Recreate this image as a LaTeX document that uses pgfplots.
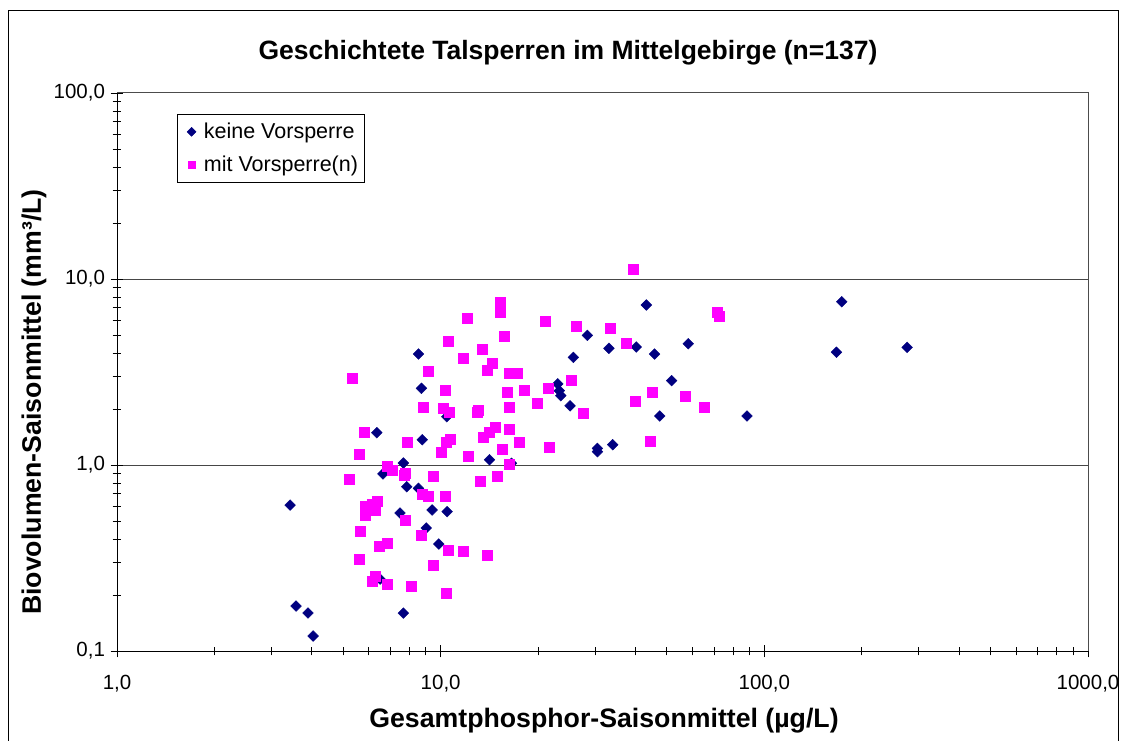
\documentclass[border=0pt]{standalone}
\usepackage{fontspec}
\setmainfont{Liberation Sans}
\usepackage{pgfplots}
\pgfplotsset{compat=1.18}
\definecolor{navyb}{HTML}{000080}
\definecolor{magp}{HTML}{FF00FF}
\begin{document}
\begin{tikzpicture}
\useasboundingbox (0pt,0pt) rectangle (1123pt,740pt);
\draw[black, line width=1pt] (8pt,-5pt) -- (8pt,729pt) -- (1118pt,729pt) -- (1118pt,-5pt);
\begin{axis}[
  at={(117pt,89pt)}, anchor=south west,
  width=971pt, height=558pt, scale only axis,
  xmode=log, ymode=log,
  xmin=1, xmax=1000, ymin=0.1, ymax=100,
  xtick={1,10,100,1000}, xticklabels={{1,0},{10,0},{100,0},{1000,0}},
  ytick={0.1,1,10,100}, yticklabels={{0,1},{1,0},{10,0},{100,0}},
  tick align=center, xtick pos=bottom, ytick pos=left,
  major tick length=13pt, minor tick length=9pt,
  every tick/.style={black, line width=0.9pt},
  ticklabel style={font=\fontsize{20.5}{24}\selectfont},
  xticklabel style={yshift=-14pt},
  yticklabel style={xshift=-2pt},
  axis line style={draw=none},
  ymajorgrids, grid style={gray!55!black, line width=1pt},
  clip=false,
  legend style={at={(0.0618,0.9624)}, anchor=north west, draw=black, line width=0.6pt,
    font=\fontsize{21.5}{26}\selectfont, row sep=12pt, inner xsep=3pt, inner ysep=7pt,
    nodes={inner xsep=3pt}},
  legend cell align=left,
]
\addplot[only marks, color=navyb, mark=square*, mark size=3.8pt,
  mark options={rotate=45, draw=none, fill=navyb},
  legend image code/.code={\path (-11pt,0pt) (9pt,0pt);
    \draw[mark size=3.1pt, mark options={rotate=45, draw=none, fill=navyb}] plot coordinates {(0pt,0pt)};}] coordinates {
(3.426,0.609) (3.575,0.1745) (3.894,0.1601) (4.036,0.1204) (6.35,1.492) (6.50,0.2438)
(6.63,0.895) (7.67,1.025) (7.67,0.160) (7.86,0.764) (8.54,3.953) (8.72,2.585)
(8.77,1.368) (10.45,1.818) (8.54,0.749) (7.49,0.552) (9.41,0.573) (10.47,0.561)
(9.02,0.4585) (9.87,0.376) (14.15,1.068) (16.55,1.021) (43.2,7.25) (28.4,4.98)
(33.1,4.24) (40.2,4.31) (45.8,3.95) (58.2,4.49) (25.7,3.79) (23.0,2.73)
(23.25,2.51) (23.5,2.36) (25.1,2.08) (51.7,2.84) (47.5,1.834) (88.4,1.834)
(30.5,1.229) (30.5,1.179) (34.0,1.286) (173.4,7.55) (167.0,4.04) (276.2,4.29)
};
\addlegendentry{keine Vorsperre}
\addplot[only marks, color=magp, mark=square*, mark size=5pt,
  mark options={draw=none, fill=magp},
  legend image code/.code={\path (-11pt,0pt) (9pt,0pt);
    \draw[mark size=3.8pt, mark=square*, mark options={draw=none, fill=magp}] plot coordinates {(0pt,0pt)};}] coordinates {
(5.33,2.925) (15.30,7.46) (15.30,6.62) (12.05,6.19) (21.09,5.95) (10.55,4.62)
(15.68,4.92) (13.44,4.17) (11.74,3.75) (14.43,3.535) (13.92,3.254) (9.13,3.175)
(16.25,3.112) (17.24,3.112) (10.30,2.531) (16.05,2.478) (18.08,2.531) (21.45,2.585)
(8.81,2.058) (10.16,2.018) (10.65,1.934) (12.97,1.934) (13.09,1.975) (16.25,2.058)
(19.88,2.146) (5.79,1.499) (7.90,1.329) (10.06,1.170) (10.42,1.329) (10.68,1.380)
(12.19,1.118) (13.56,1.409) (14.09,1.499) (14.77,1.601) (16.25,1.562) (17.45,1.329)
(15.49,1.219) (21.60,1.245) (5.59,1.146) (6.85,0.991) (7.10,0.932) (7.78,0.906)
(7.71,0.884) (5.20,0.841) (9.46,0.876) (13.25,0.823) (14.95,0.876) (16.28,1.012)
(8.75,0.698) (9.13,0.681) (10.30,0.681) (5.855,0.600) (6.14,0.615) (6.36,0.638)
(6.29,0.575) (5.855,0.540) (7.75,0.508) (5.65,0.440) (8.71,0.422) (6.85,0.381)
(6.45,0.3655) (10.55,0.3505) (11.74,0.3436) (13.92,0.328) (5.59,0.3097) (9.46,0.290)
(6.29,0.252) (6.14,0.236) (6.85,0.230) (8.09,0.2217) (10.40,0.2033) (39.45,11.32)
(26.23,5.59) (33.35,5.47) (37.53,4.545) (71.7,6.62) (72.6,6.32) (25.26,2.864)
(27.52,1.897) (44.97,2.478) (39.93,2.19) (57.1,2.33) (65.25,2.058) (44.5,1.351)
};
\addlegendentry{mit Vorsperre(n)}
\draw[gray!60!black, line width=1pt] (rel axis cs:0,1) -- (rel axis cs:1,1) -- (rel axis cs:1,0);
\draw[black, line width=1pt] (rel axis cs:0,1) -- (rel axis cs:0,0) -- (rel axis cs:1,0);
\end{axis}
\node[font=\bfseries\fontsize{26.5}{30}\selectfont] at (568pt,687pt) {Geschichtete Talsperren im Mittelgebirge (n=137)};
\node[font=\bfseries\fontsize{26.7}{30}\selectfont] at (604pt,19pt) {Gesamtphosphor-Saisonmittel (µg/L)};
\node[font=\bfseries\fontsize{26.7}{30}\selectfont, rotate=90] at (34pt,338pt) {Biovolumen-Saisonmittel (mm³/L)};
\end{tikzpicture}
\end{document}
